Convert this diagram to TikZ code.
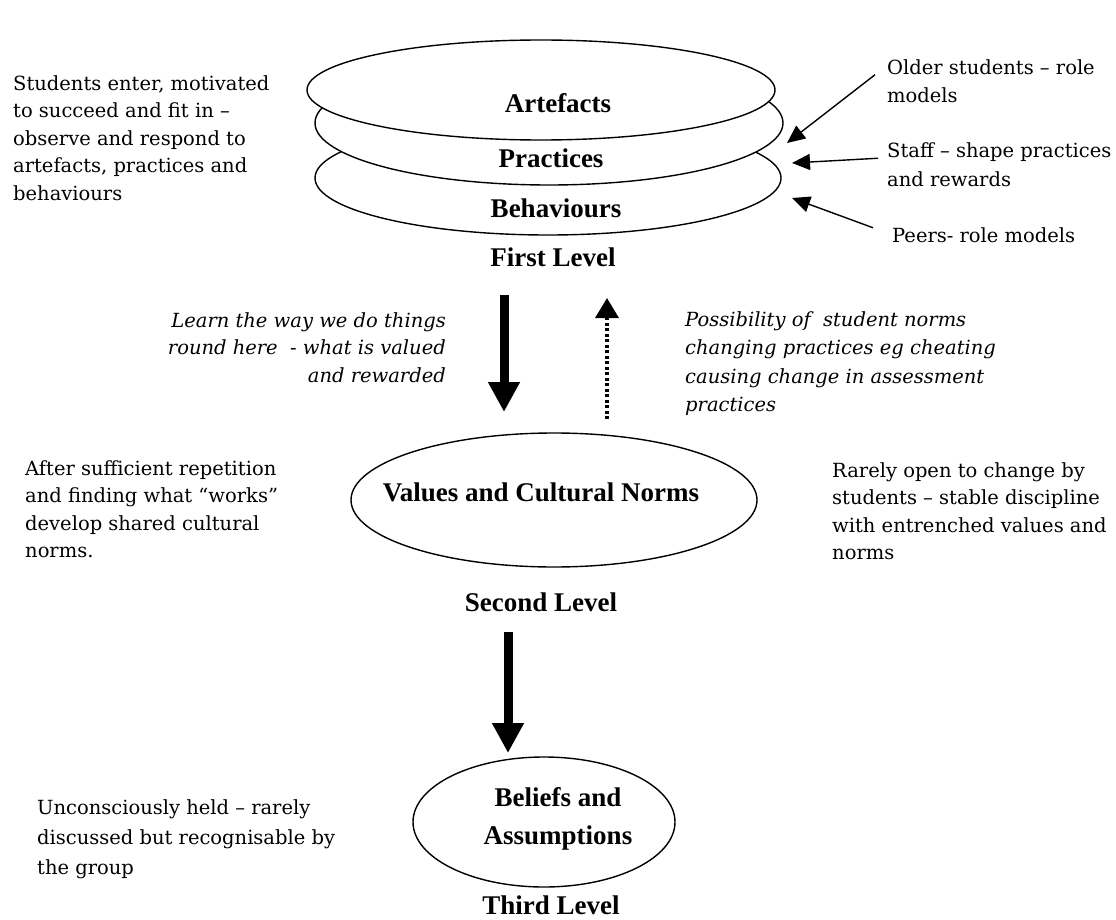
\documentclass[tikz,border=0pt]{standalone}
\usepackage{fontspec}
\setmainfont{DejaVu Serif}
\newfontfamily\labfont{Liberation Serif}
\usetikzlibrary{shapes.geometric,arrows.meta}
\tikzset{
  body/.style={inner sep=0pt, font=\fontsize{19.5}{27.5}\selectfont, align=left, anchor=north west},
  lab/.style={inner sep=0pt, font=\labfont\bfseries\fontsize{27}{38}\selectfont},
  layer/.style={ellipse, draw, line width=1.4pt, fill=white, inner sep=0pt},
  thinarrow/.style={line width=1.4pt, -{Triangle[length=18pt,width=16pt]}},
  bigarrow/.style={line width=9pt, -{Triangle[length=30pt,width=30pt]}},
  dotarrow/.style={line width=3.5pt, dash pattern=on 3pt off 2.5pt, -{Triangle[length=20pt,width=23pt]}},
}
\begin{document}
\begin{tikzpicture}[x=1pt,y=-1pt]
\useasboundingbox (0,0) rectangle (1116,920);
% first level layers
\node[layer, minimum width=466pt, minimum height=114pt] (e3) at (548,178) {};
\node[layer, minimum width=468pt, minimum height=124pt] (e2) at (549,123) {};
\node[layer, minimum width=468pt, minimum height=100pt] (e1) at (541,90) {};
\node[lab] (art) at (558,103) {Artefacts};
\node[lab] (pra) at (551,158) {Practices};
\node[lab] (beh) at (556,208) {Behaviours};
\node[lab] (l1) at (553,257) {First Level};
% left text
\node[body] (enter) at (13,75) {Students enter, motivated\\to succeed and fit in –\\observe and respond to\\artefacts, practices and\\behaviours};
% right texts
\node[body, font=\fontsize{19.5}{28}\selectfont] (older) at (887,59) {Older students – role\\models};
\node[body, font=\fontsize{19.5}{29}\selectfont] (staff) at (887,142) {Staff – shape practices\\and rewards};
\node[body] (peers) at (892,227) {Peers- role models};
\coordinate (t1) at (787,143);
\coordinate (t2) at (792,163);
\coordinate (t3) at (792,198);
\draw[thinarrow] ([shift={(-12,-6)}]older.west) -- (t1);
\draw[thinarrow] ([shift={(-9,-6)}]staff.west) -- (t2);
\draw[thinarrow] ([shift={(-19,-7)}]peers.west) -- (t3);
% middle
\node[body, align=right, anchor=north east, font=\itshape\fontsize{19.5}{27.5}\selectfont] (learn) at (446,312) {Learn the way we do things\\round here \ - what is valued\\and rewarded};
\node[body, font=\itshape\fontsize{19.5}{28.5}\selectfont] (poss) at (685,311) {Possibility of \ student norms\\changing practices eg cheating\\causing change in assessment\\practices};
\coordinate (a1s) at (504,295);
\coordinate (a1e) at (504,412);
\draw[bigarrow] (a1s) -- (a1e);
\coordinate (d1s) at (607,419);
\coordinate (d1e) at (607,298);
\draw[dotarrow] (d1s) -- (d1e);
% second level
\node[layer, minimum width=406pt, minimum height=134pt] (e4) at (554,500) {};
\node[lab] (val) at (541,492) {Values and Cultural Norms};
\node[lab] (l2) at (541,602) {Second Level};
\node[body] (after) at (25,460) {After sufficient repetition\\and finding what “works”\\develop shared cultural\\norms.};
\node[body] (rarely) at (832,462) {Rarely open to change by\\students – stable discipline\\with entrenched values and\\norms};
\coordinate (a2s) at (508,632);
\coordinate (a2e) at (508,753);
\draw[bigarrow] (a2s) -- (a2e);
% third level
\node[layer, minimum width=262pt, minimum height=130pt] (e5) at (544,822) {};
\node[lab, align=center] (bel) at (558,819) {Beliefs and\\Assumptions};
\node[lab] (l3) at (551,905) {Third Level};
\node[body, font=\fontsize{19.5}{30}\selectfont] (uncon) at (37,799) {Unconsciously held – rarely\\discussed but recognisable by\\the group};
\end{tikzpicture}
\end{document}
